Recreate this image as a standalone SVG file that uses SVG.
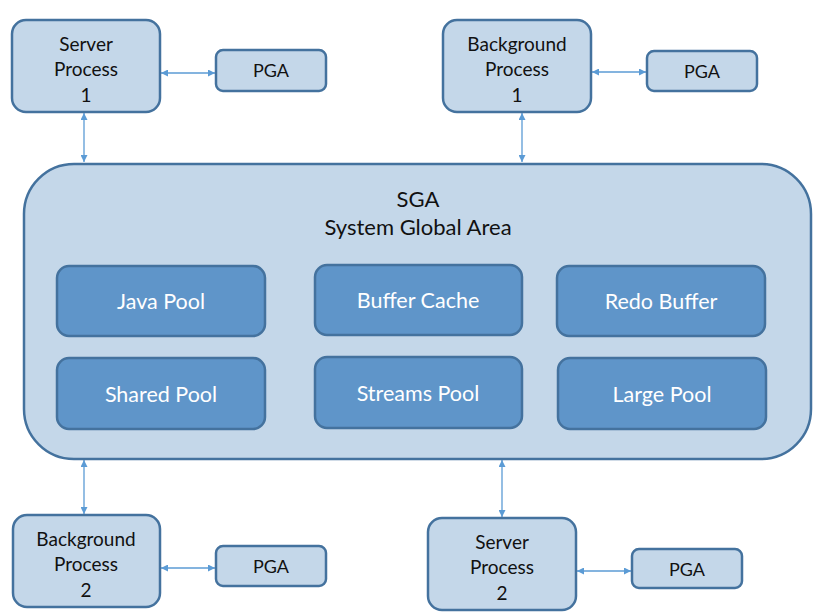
<svg xmlns="http://www.w3.org/2000/svg" width="822" height="615" viewBox="0 0 822 615">
<defs>
<marker id="ah" viewBox="0 0 10 10" refX="10" refY="5" markerWidth="9" markerHeight="7" markerUnits="userSpaceOnUse" orient="auto-start-reverse">
<path d="M0,0 L10,5 L0,10 z" fill="#5b9bd5"/>
</marker>
<style>
.proc{fill:#c4d7e9;stroke:#44729e;stroke-width:2.5}
.pool{fill:#5f95c9;stroke:#44729e;stroke-width:2.5}
.t{font-family:Lato,"Open Sans","Liberation Sans",sans-serif;font-size:19px;fill:#111;text-anchor:middle}
.tp{font-family:Lato,"Open Sans","Liberation Sans",sans-serif;font-size:18px;fill:#111;text-anchor:middle}
.tw{font-family:Lato,"Open Sans","Liberation Sans",sans-serif;font-size:21.5px;fill:#fff;text-anchor:middle}
.ts{font-family:Lato,"Open Sans","Liberation Sans",sans-serif;font-size:22px;fill:#111;text-anchor:middle}
.c{stroke:#5b9bd5;stroke-width:1.3;fill:none;marker-start:url(#ah);marker-end:url(#ah)}
</style>
</defs>
<rect width="822" height="615" fill="#fff"/>
<g id="connectors">
<line class="c" x1="161" y1="73" x2="215" y2="73"/>
<line class="c" x1="84" y1="113" x2="84" y2="162"/>
<line class="c" x1="592" y1="72" x2="646" y2="72"/>
<line class="c" x1="522" y1="113" x2="522" y2="162"/>
<line class="c" x1="84" y1="460" x2="84" y2="514"/>
<line class="c" x1="161" y1="568" x2="215" y2="568"/>
<line class="c" x1="502" y1="460" x2="502" y2="517"/>
<line class="c" x1="577" y1="571" x2="631" y2="571"/>
</g>
<g id="sga">
<rect class="proc" x="24" y="164" width="787" height="295" rx="50"/>
<text class="ts" x="418" y="207">SGA</text>
<text class="ts" x="418" y="235">System Global Area</text>
</g>
<g id="java-pool"><rect class="pool" x="57" y="266" width="208" height="70" rx="12"/><text class="tw" x="161" y="309">Java Pool</text></g>
<g id="buffer-cache"><rect class="pool" x="315" y="265" width="207" height="70" rx="12"/><text class="tw" x="418" y="308">Buffer Cache</text></g>
<g id="redo-buffer"><rect class="pool" x="557" y="266" width="208" height="70" rx="12"/><text class="tw" x="661" y="309">Redo Buffer</text></g>
<g id="shared-pool"><rect class="pool" x="57" y="358" width="208" height="71" rx="12"/><text class="tw" x="161" y="402">Shared Pool</text></g>
<g id="streams-pool"><rect class="pool" x="315" y="357" width="207" height="71" rx="12"/><text class="tw" x="418" y="401">Streams Pool</text></g>
<g id="large-pool"><rect class="pool" x="558" y="358" width="208" height="71" rx="12"/><text class="tw" x="662" y="402">Large Pool</text></g>
<g id="server-process-1"><rect class="proc" x="12" y="20" width="148" height="92" rx="14"/><text class="t" x="86" y="51">Server</text><text class="t" x="86" y="76">Process</text><text class="t" x="86" y="102">1</text></g>
<g id="pga-1"><rect class="proc" x="216" y="50" width="110" height="41" rx="7"/><text class="tp" x="271" y="77">PGA</text></g>
<g id="background-process-1"><rect class="proc" x="443" y="20" width="148" height="92" rx="14"/><text class="t" x="517" y="51">Background</text><text class="t" x="517" y="76">Process</text><text class="t" x="517" y="102">1</text></g>
<g id="pga-2"><rect class="proc" x="647" y="51" width="110" height="40" rx="7"/><text class="tp" x="702" y="78">PGA</text></g>
<g id="background-process-2"><rect class="proc" x="13" y="515" width="147" height="92" rx="14"/><text class="t" x="86" y="546">Background</text><text class="t" x="86" y="571">Process</text><text class="t" x="86" y="597">2</text></g>
<g id="pga-3"><rect class="proc" x="216" y="546" width="110" height="40" rx="7"/><text class="tp" x="271" y="573">PGA</text></g>
<g id="server-process-2"><rect class="proc" x="428" y="518" width="148" height="92" rx="14"/><text class="t" x="502" y="549">Server</text><text class="t" x="502" y="574">Process</text><text class="t" x="502" y="600">2</text></g>
<g id="pga-4"><rect class="proc" x="632" y="549" width="110" height="39" rx="7"/><text class="tp" x="687" y="576">PGA</text></g>
</svg>
